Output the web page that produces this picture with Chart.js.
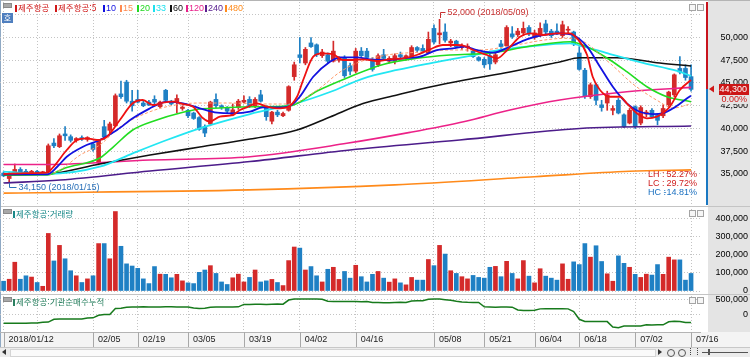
<!DOCTYPE html>
<html lang="ko">
<head>
<meta charset="utf-8">
<title>제주항공</title>
<script src="https://cdn.jsdelivr.net/npm/chart.js@4.4.1/dist/chart.umd.min.js"></script>
<style>
  html, body { margin: 0; padding: 0; background: #fff; }
  #wrap { position: relative; width: 750px; height: 357px; overflow: hidden; background: #fff; }
  canvas { position: absolute; left: 0; }
  .abs { position: absolute; }
  .txt { position: absolute; font: 9px "Liberation Sans", sans-serif; line-height: 11px; white-space: nowrap; }
  .kr { font-family: "Noto Sans CJK KR", sans-serif; font-size: 8.5px; }
  .mk { position: absolute; width: 2px; height: 7px; }
  .ico { position: absolute; width: 7px; height: 3px; background: #a8a8a8; border: 1px solid #8a8a8a; }
  .btn { position: absolute; width: 5px; height: 5px; border: 1px solid #a4a4a4; background: #f6f6f6; }
</style>
</head>
<body>
<div id="wrap">
  <div class="abs" style="left:708px;top:0;width:42px;height:332px;background:#e4e4e4"></div>
  <div class="abs" style="left:0;top:332px;width:750px;height:15px;background:#f4f4f4"></div>
  <div class="abs" style="left:0;top:347px;width:750px;height:10px;background:#ececec;border-top:1px solid #c8c8c8"></div>
  <div class="abs" style="left:10px;top:349px;width:644px;height:6px;background:#fafafa;border:1px solid #d4d4d4"></div>
  <div class="abs" style="left:2px;top:349px;width:0;height:0;border-top:3px solid transparent;border-bottom:3px solid transparent;border-right:4px solid #333"></div>
  <div class="abs" style="left:658px;top:349px;width:0;height:0;border-top:3px solid transparent;border-bottom:3px solid transparent;border-left:4px solid #333"></div>
  <div class="abs" style="left:667px;top:349px;width:6px;height:6px;border:1px solid #555;border-radius:50%"></div>
  <div class="abs" style="left:678px;top:349px;width:6px;height:6px;border:1px solid #555;border-radius:50%"></div>
  <div class="abs" style="left:690px;top:348px;width:6px;height:7px;border-left:1px dotted #444;border-right:1px dotted #444"></div>
  <div class="abs" style="left:702px;top:352px;width:46px;height:1px;background:#555"></div>
  <div class="abs" style="left:708px;top:349px;width:2px;height:6px;background:#555"></div>

  <div class="abs" style="left:0;top:206px;width:750px;height:1px;background:#c4c4c4"></div>
  <div class="abs" style="left:0;top:294px;width:750px;height:1px;background:#c4c4c4"></div>
  <div class="abs" style="left:0;top:0;width:750px;height:1px;background:#b4b4b4"></div>
  <div class="abs" style="left:0;top:0;width:1px;height:347px;background:#8fa9c4"></div>

  <canvas id="cPrice" width="750" height="207" style="top:0"></canvas>
  <canvas id="cVol" width="750" height="87" style="top:207px"></canvas>
  <canvas id="cInst" width="750" height="53" style="top:294px"></canvas>

  <div class="ico" style="left:3px;top:3px"></div>
  <div class="abs" style="left:2px;top:13px;width:11px;height:10px;background:#4f7fbf;color:#fff;font:8px 'Noto Sans CJK KR';line-height:10px;text-align:center">호</div>
  <div class="mk" style="left:15px;top:5px;background:#d01818"></div>
  <div class="txt kr" style="left:18px;top:2px;color:#d01818">제주항공</div>
  <div class="mk" style="left:55px;top:5px;background:#d01818"></div>
  <div class="txt kr" style="left:58px;top:2px;color:#d01818">제주항공:5</div>
  <div class="mk" style="left:103px;top:5px;background:#1010e0"></div>
  <div class="txt" style="left:106px;top:3px;color:#1010e0">10</div>
  <div class="mk" style="left:120px;top:5px;background:#ff8a50"></div>
  <div class="txt" style="left:123px;top:3px;color:#ff8a50">15</div>
  <div class="mk" style="left:137px;top:5px;background:#22d822"></div>
  <div class="txt" style="left:140px;top:3px;color:#22d822">20</div>
  <div class="mk" style="left:153px;top:5px;background:#1ce0ee"></div>
  <div class="txt" style="left:156px;top:3px;color:#1ce0ee">33</div>
  <div class="mk" style="left:170px;top:5px;background:#111"></div>
  <div class="txt" style="left:173px;top:3px;color:#111">60</div>
  <div class="mk" style="left:186px;top:5px;background:#e8208a"></div>
  <div class="txt" style="left:189px;top:3px;color:#e8208a">120</div>
  <div class="mk" style="left:205px;top:5px;background:#5a2090"></div>
  <div class="txt" style="left:208px;top:3px;color:#5a2090">240</div>
  <div class="mk" style="left:225px;top:5px;background:#ff8a1a"></div>
  <div class="txt" style="left:228px;top:3px;color:#ff8a1a">480</div>
  <div class="btn" style="left:689px;top:4px"></div>
  <div class="btn" style="left:697px;top:4px"></div>

  <div class="ico" style="left:3px;top:209px"></div>
  <div class="mk" style="left:13px;top:211px;background:#198888"></div>
  <div class="txt kr" style="left:16px;top:208px;color:#198888">제주항공:거래량</div>
  <div class="btn" style="left:689px;top:210px"></div>
  <div class="btn" style="left:697px;top:210px"></div>

  <div class="ico" style="left:3px;top:297px"></div>
  <div class="mk" style="left:13px;top:299px;background:#2a8060"></div>
  <div class="txt kr" style="left:16px;top:296px;color:#2a8060">제주항공:기관순매수누적</div>
  <div class="btn" style="left:689px;top:297px"></div>
  <div class="btn" style="left:697px;top:297px"></div>
</div>
<script>
// 제주항공 일봉 2018/01/12 ~ 2018/07/16
var year = '2018';
var dates = [
  '01/12','01/15','01/16','01/17','01/18','01/19','01/22','01/23','01/24','01/25','01/26','01/29','01/30','01/31',
  '02/01','02/02','02/05','02/06','02/07','02/08','02/09','02/12','02/13','02/14','02/19','02/20','02/21','02/22','02/23','02/26','02/27','02/28',
  '03/02','03/05','03/06','03/07','03/08','03/09','03/12','03/13','03/14','03/15','03/16','03/19','03/20','03/21','03/22','03/23','03/26','03/27','03/28','03/29','03/30',
  '04/02','04/03','04/04','04/05','04/06','04/09','04/10','04/11','04/12','04/13','04/16','04/17','04/18','04/19','04/20','04/23','04/24','04/25','04/26','04/27','04/30',
  '05/02','05/03','05/04','05/08','05/09','05/10','05/11','05/14','05/15','05/16','05/17','05/18','05/21','05/23','05/24','05/25','05/28','05/29','05/30','05/31',
  '06/01','06/04','06/05','06/07','06/08','06/11','06/12','06/14','06/15','06/18','06/19','06/20','06/21','06/22','06/25','06/26','06/27','06/28','06/29',
  '07/02','07/03','07/04','07/05','07/06','07/09','07/10','07/11','07/12','07/13','07/16'
];
var tickDates = ['01/12','01/22','02/05','02/19','03/05','03/19','04/02','04/16','05/08','05/21','06/04','06/18','07/02','07/16'];
var tickText = ['2018/01/12','','02/05','02/19','03/05','03/19','04/02','04/16','05/08','05/21','06/04','06/18','07/02','07/16'];

var opens = [
  35100,34500,35000,35500,35300,35100,35300,35100,35200,38400,
  38000,39400,39100,38700,39000,38800,38300,36200,40200,39800,
  40300,43800,45100,43000,43200,42800,42900,43200,42400,44200,
  43000,42900,42200,42000,41700,41200,40200,40500,43200,42500,
  42300,41500,42300,42900,43200,42400,43700,42300,40800,41800,
  41400,42000,45700,48100,47200,49400,49200,48000,48100,47400,
  47500,47800,46900,46300,48500,48500,47500,47000,48100,47400,
  47400,48100,47800,47900,48900,48800,48300,51000,50300,50600,
  49400,49600,48900,48900,48500,47800,47600,48000,47300,49300,
  49100,50400,50300,50500,51100,50000,50300,51500,50700,50700,
  50200,50800,50600,48300,46400,43500,44800,42600,42800,42000,
  43100,41500,40600,42400,40600,41600,42000,41500,41400,42600,
  43700,46600,46600,45700
];
var highs = [
  35250,35200,36100,35700,35500,35400,35400,35300,38300,38900,
  39400,40200,39300,39000,39200,39100,38400,38800,40900,40700,
  43800,45200,45300,44200,44200,43000,43100,43600,43000,44300,
  43100,43700,42500,42100,41800,41300,40400,43000,43800,42600,
  42400,42700,43200,43600,43500,43400,44200,42500,41900,42000,
  41800,44700,47300,50000,48900,50000,49300,48700,48300,49600,
  47900,48000,47200,48800,48900,48800,47800,48200,48700,47900,
  48200,48400,48100,49100,49000,49200,50600,51400,52000,51500,
  49800,49700,49300,49300,48700,47900,47800,48500,48300,49700,
  51300,51200,51000,51700,51300,50800,51600,51900,50900,51500,
  51800,51200,50700,49000,46600,45000,45000,43100,44100,42500,
  43300,41600,42200,42500,42500,42000,42200,41600,42600,44100,
  46000,47900,47000,47000
];
var lows = [
  34700,34150,34900,35100,35000,34950,35000,35000,35100,37900,
  37900,38700,38500,38500,38700,38600,37500,36000,38800,39500,
  40200,43300,42800,41900,42800,42400,42500,42700,42300,43000,
  42600,41700,42000,41200,41000,39800,39100,40300,42300,42100,
  41700,41400,42100,42800,42300,42300,42900,40900,40500,41300,
  41300,41900,45300,47200,47000,48900,47900,47800,47200,47300,
  47300,45600,45900,46100,47900,47600,46300,46800,47500,47200,
  47100,47700,47500,47800,48400,48300,48200,49300,49300,49500,
  49000,48900,48700,48500,47800,47400,46700,46500,47100,48800,
  49000,49900,50100,50200,50200,49800,50100,50400,50000,50300,
  50000,50400,49100,46400,43300,43300,42600,41900,42000,41500,
  41600,40100,40500,40000,40400,41300,41200,40400,41200,42400,
  43500,46000,45300,44100
];
var closes = [
  34800,35000,35500,35200,35100,35300,35100,35250,38100,38100,
  39200,39200,38700,38900,38850,39000,37700,38700,39100,40500,
  43600,43500,43000,42500,42900,42500,42600,42900,42900,43100,
  42700,43300,42350,41400,41100,39900,39500,42900,42500,42300,
  41900,42050,43000,43100,42400,43200,43000,41300,41800,41500,
  41650,44600,47000,47800,48700,49000,48100,48400,47400,48500,
  47800,45800,46300,48500,48000,47800,46500,48000,47700,47700,
  48000,47900,48000,48900,48600,48500,49800,49500,50500,49700,
  49600,49000,49100,49050,47900,47500,47000,47100,48100,49000,
  51100,50100,50700,51000,50400,50500,51000,50600,50200,50400,
  51400,50900,49300,46500,43500,44800,43100,42300,43700,42200,
  41700,40200,42000,40200,42300,41800,41300,40900,42200,44000,
  45900,46200,45600,44300
];
var dayChange = 0.00;

var volumes = [
  54000,65000,159000,65000,84000,77000,47000,26000,318000,166000,
  252000,178000,112000,84000,47000,67000,84000,262000,262000,178000,
  439000,247000,150000,138000,125000,67000,41000,135000,93000,92000,
  73000,92000,56000,45000,41000,103000,116000,140000,97000,50000,
  36000,73000,93000,50000,75000,116000,50000,56000,64000,47000,
  30000,168000,243000,237000,116000,135000,84000,50000,120000,131000,
  64000,108000,71000,142000,79000,50000,92000,108000,71000,49000,
  67000,45000,34000,75000,60000,60000,174000,140000,252000,204000,
  112000,97000,79000,67000,86000,75000,71000,131000,136000,79000,
  164000,97000,67000,168000,82000,45000,123000,82000,71000,60000,
  150000,65000,161000,146000,262000,187000,250000,163000,95000,54000,
  194000,153000,131000,92000,75000,93000,88000,146000,92000,187000,
  172000,172000,60000,97000
];

// 기관 순매수 누적
var instCum = [
  -280000,-280000,-275000,-275000,-275000,-270000,-270000,-245000,-240000,-150000,
  -145000,-145000,-140000,-140000,-145000,-110000,-105000,-20000,0,5000,
  200000,205000,240000,245000,245000,250000,248000,245000,245000,250000,
  250000,248000,245000,245000,210000,200000,205000,240000,245000,245000,
  248000,245000,250000,330000,330000,335000,335000,330000,335000,340000,
  335000,470000,500000,505000,500000,505000,500000,495000,430000,425000,
  420000,420000,425000,420000,415000,420000,390000,390000,385000,380000,
  390000,395000,390000,440000,445000,445000,495000,500000,500000,480000,
  460000,430000,410000,395000,390000,390000,250000,245000,240000,245000,
  245000,240000,150000,135000,135000,140000,185000,190000,190000,185000,
  190000,185000,100000,-150000,-220000,-225000,-225000,-220000,-225000,-400000,
  -420000,-370000,-365000,-370000,-365000,-330000,-335000,-330000,-330000,-230000,
  -215000,-220000,-255000,-255000
];

// 이동평균선 (봉 위치, 가격)
var ma5 = [[0,35000],[4,35100],[7.8,35150],[8.8,35700],[11.3,37635],[13.1,38735],[14.9,38920],[16.7,38735],[18.5,39100],[20.8,40935],[23.1,42770],[24.9,43130],[26.7,42580],[28.5,42835],[30.3,42945],[32.1,42690],[33.9,42395],[35.7,41120],[36.9,40750],[38.7,41300],[41,41480],[42.3,42030],[43.5,42330],[45.3,42770],[47.1,42395],[48.9,42220],[50.7,42330],[52.5,43490],[53.6,45330],[55.4,47890],[57,48260],[58.9,48185],[60.7,47530],[62.5,47530],[64.3,47605],[66.8,47420],[69.1,47605],[71.5,47715],[73.9,48075],[76.3,48700],[78.6,49175],[81.1,49175],[82.5,49065],[84,48625],[86.5,48075],[88.3,47715],[90.1,48625],[92.4,50090],[94.2,50460],[96.5,50275],[99,50460],[101.3,50460],[102.6,49910],[104.4,48075],[105.4,45690],[106.7,44230],[108.5,43490],[110.3,43490],[111.5,42770],[113.3,41670],[115.1,41120],[116.9,41300],[117.9,41670],[119.2,42395],[121,44230],[123,45330]];
var ma10 = [[0,34950],[7.8,34950],[9.6,35800],[11.3,36900],[14.2,38000],[17.2,38735],[20.3,39835],[23.1,41120],[26.2,42220],[28,42770],[29.2,42945],[32.1,42770],[35.1,42220],[38.2,41735],[41,41670],[44.1,41845],[46.4,42330],[49.4,42330],[51.2,42470],[53,43490],[55.4,45690],[58.4,47340],[60.2,47825],[63.2,47825],[65.5,47605],[68.6,47530],[71.5,47715],[74.5,47890],[77.5,48625],[80.4,48810],[82.5,48990],[84.7,48625],[87.6,48330],[90.6,48990],[93.6,49800],[96.5,50275],[99.5,50460],[101.9,50275],[104.4,48990],[106.7,46790],[109,44590],[111.5,42770],[113.8,41845],[116.2,41590],[117.9,41670],[119.8,42220],[122.3,43320],[123,43600]];
var ma15 = [[0,34950],[7.8,34950],[10.1,35440],[13.7,37085],[17.2,38185],[20.8,40165],[26.2,41845],[30.7,42580],[35.1,42800],[40.5,42800],[46.4,42690],[51.2,42690],[56.1,44230],[60.2,46210],[63.2,47200],[68.6,48075],[74.5,48400],[79.9,48625],[85.2,48625],[90.6,49065],[96.8,49725],[100.4,49910],[103.1,49725],[108.5,47165],[112.6,44890],[116.9,43100],[119.8,42250],[123,42720]];
var ma20 = [[0,34890],[7.8,34890],[11,35660],[17.2,36755],[19.6,37965],[23.1,39835],[27.4,40935],[31.6,41700],[35.1,42140],[38.7,42250],[44.1,42395],[51.2,42470],[56.1,44120],[62,45690],[67.9,47030],[73.9,47715],[79.9,48075],[87.6,48330],[93.6,48990],[101.3,49540],[104.4,48990],[108.5,47530],[111.5,46240],[115.1,44590],[118.7,43490],[123,42945]];
var ma33 = [[0,35250],[7.8,35000],[17.2,35800],[23.1,37270],[29.2,38735],[35.1,40020],[44.1,41590],[52.5,42800],[58.4,44010],[64.3,45490],[70.4,46430],[76.3,47165],[82.5,47860],[88.8,48625],[93.6,48990],[101.3,49360],[103.1,49120],[108.5,48185],[114.4,47200],[120.5,46320],[123,45770]];
var ma60 = [[0,34890],[7.8,35000],[17.2,36100],[26.2,37085],[35.1,37965],[44.1,38845],[52.5,39835],[58.4,41265],[64.3,42745],[70.4,43680],[76.3,44560],[82.5,45330],[90.6,46210],[99.5,47310],[103.1,47770],[109.7,47770],[117.4,47200],[123,46870]];
var ma120 = [[0,36050],[7.8,36050],[26.2,36535],[44.1,36900],[61.4,38370],[72.7,39570],[82.5,40770],[90.6,42030],[99.5,43130],[111.5,44040],[123,44520]];
var ma240 = [[0,34010],[10.1,34340],[26.2,35330],[44.1,36370],[62,37640],[81.6,38735],[103.1,40000],[123,40270]];
var ma480 = [[0,32900],[44,33250],[70,33800],[95,34700],[112,35300],[123,35450]];

var priceTicks = [35000, 37500, 40000, 42500, 45000, 47500, 50000, 52500];
var priceLabels = [35000, 37500, 40000, 42500, 45000, 47500, 50000];
var volTicks = [0, 100000, 200000, 300000, 400000];
var instTicks = [0, 500000];

Chart.defaults.font.family = '"Liberation Sans", Arial, sans-serif';
Chart.defaults.font.size = 9;
Chart.defaults.color = '#111';

var X_MIN = -0.644, X_MAX = 124.6;
var UP = '#d42a2a', DOWN = '#1f80c4';
var GRID = '#c4c4c4';
var NUM_FONT = '9px "Liberation Sans", Arial, sans-serif';

var tickIdx = tickDates.map(function (d) { return dates.indexOf(d); });

function fmtNum(v) { return Number(v).toLocaleString('en-US'); }
function isUp(i) { return closes[i] >= opens[i]; }
function barColor(c) { return isUp(c.dataIndex) ? UP : DOWN; }

function xScale(showLabels) {
  return {
    type: 'linear', min: X_MIN, max: X_MAX, bounds: 'data', offset: false,
    afterBuildTicks: function (s) { s.ticks = tickIdx.map(function (v) { return { value: v }; }); },
    afterFit: function (s) { s.paddingLeft = 0; s.paddingRight = 0; },
    grid: { color: GRID, drawTicks: false, offset: false },
    border: { display: showLabels, color: '#b4b4b4', dash: [1, 2] },
    ticks: {
      display: showLabels, autoSkip: false, maxRotation: 0, align: 'start', padding: 2, color: '#222',
      callback: function (v, i) { return tickText[i] ? '  ' + tickText[i] : ''; }
    }
  };
}

function yScale(min, max, vals, shown) {
  return {
    position: 'right', min: min, max: max, bounds: 'data',
    afterBuildTicks: function (s) { s.ticks = vals.map(function (v) { return { value: v }; }); },
    afterFit: function (s) { s.width = 48; s.paddingTop = 0; s.paddingBottom = 0; },
    grid: { color: GRID, drawTicks: false },
    border: { display: false, dash: [1, 2] },
    ticks: {
      crossAlign: 'far', padding: 0, color: '#000',
      callback: function (v) { return (!shown || shown.indexOf(v) >= 0) ? fmtNum(v) : ''; }
    }
  };
}

function maSet(pts, color, width, dash) {
  return {
    type: 'line', order: 1,
    data: pts.map(function (p) { return { x: p[0], y: p[1] }; }),
    borderColor: color, borderWidth: width, borderDash: dash || [],
    pointRadius: 0, fill: false, cubicInterpolationMode: 'monotone'
  };
}

var baseOpts = {
  responsive: false, animation: false, devicePixelRatio: 1, events: [],
  plugins: { legend: { display: false }, tooltip: { enabled: false } }
};

function opts(extra) { return Object.assign({}, baseOpts, extra); }

// 고가/저가 표시, 현재가 박스, LH/LC/HC
var priceMarks = {
  id: 'priceMarks',
  afterDraw: function (chart) {
    var ctx = chart.ctx, x = chart.scales.x, y = chart.scales.y, a = chart.chartArea;
    var hi = Math.max.apply(null, highs), hiI = highs.indexOf(hi);
    var lo = Math.min.apply(null, lows), loI = lows.indexOf(lo);
    var last = closes[closes.length - 1];
    ctx.save();
    ctx.font = NUM_FONT;
    ctx.textBaseline = 'middle';
    ctx.lineWidth = 1;

    var hx = Math.round(x.getPixelForValue(hiI)) + 0.5, hy = Math.round(y.getPixelForValue(hi));
    ctx.strokeStyle = '#c83030';
    ctx.beginPath(); ctx.moveTo(hx, hy - 1); ctx.lineTo(hx, hy - 6.5); ctx.lineTo(hx + 5, hy - 6.5); ctx.stroke();
    ctx.fillStyle = '#c83030'; ctx.textAlign = 'left';
    ctx.fillText(fmtNum(hi) + ' (' + year + '/' + dates[hiI] + ')', hx + 7, hy - 6);

    var lx = Math.round(x.getPixelForValue(loI)) + 0.5, ly = Math.round(y.getPixelForValue(lo));
    ctx.strokeStyle = '#2a70b8';
    ctx.beginPath(); ctx.moveTo(lx, ly + 1); ctx.lineTo(lx, ly + 5.5); ctx.lineTo(lx + 7, ly + 5.5); ctx.stroke();
    ctx.fillStyle = '#2a70b8';
    ctx.fillText(fmtNum(lo) + ' (' + year + '/' + dates[loI] + ')', lx + 9, ly + 6);

    var rows = [
      ['LH', (hi - lo) / lo * 100, '#d02020'],
      ['LC', (last - lo) / lo * 100, '#d02020'],
      ['HC', (last - hi) / hi * 100, '#1a70c0']
    ];
    rows.forEach(function (r, k) {
      var ty = 175 + k * 9;
      ctx.fillStyle = r[2];
      ctx.textAlign = 'left'; ctx.fillText(r[0] + ' :', 648, ty);
      ctx.textAlign = 'right'; ctx.fillText(r[1].toFixed(2) + '%', 697, ty);
    });

    var yl = Math.round(y.getPixelForValue(last));
    ctx.fillStyle = '#c8141e'; ctx.fillRect(706, a.top, 2, yl - a.top);
    ctx.fillStyle = '#1a78c2'; ctx.fillRect(706, yl, 2, a.bottom - yl);
    ctx.fillStyle = '#d01818';
    ctx.beginPath(); ctx.moveTo(709, yl); ctx.lineTo(714, yl - 3.5); ctx.lineTo(714, yl + 3.5); ctx.closePath(); ctx.fill();
    ctx.fillStyle = '#e4e4e4'; ctx.fillRect(718, yl + 6, 32, 9);
    ctx.fillStyle = '#cc1616'; ctx.fillRect(719, yl - 5, 30, 11);
    ctx.fillStyle = '#fff'; ctx.textAlign = 'right';
    ctx.fillText(fmtNum(last), 747, yl + 0.5);
    ctx.fillStyle = '#d01818';
    ctx.fillText(dayChange.toFixed(2) + '%', 747, yl + 11);
    ctx.restore();
  }
};

// 날짜 구분선
var dateSeps = {
  id: 'dateSeps',
  afterDraw: function (chart) {
    var ctx = chart.ctx, x = chart.scales.x, a = chart.chartArea;
    ctx.save();
    ctx.strokeStyle = '#a8a8a8'; ctx.lineWidth = 1;
    tickIdx.forEach(function (v, k) {
      if (!tickText[k]) return;
      var px = Math.round(x.getPixelForValue(v)) + 0.5;
      ctx.beginPath(); ctx.moveTo(px, a.bottom); ctx.lineTo(px, chart.height); ctx.stroke();
    });
    ctx.restore();
  }
};

var bodies = {
  type: 'bar', order: 5, grouped: false, barThickness: 4, minBarLength: 1,
  data: opens.map(function (o, i) { return { x: i, y: [o, closes[i]] }; }),
  backgroundColor: barColor, borderWidth: 0
};
var wicks = {
  type: 'bar', order: 6, grouped: false, barThickness: 1,
  data: lows.map(function (l, i) { return { x: i, y: [l, highs[i]] }; }),
  backgroundColor: barColor, borderWidth: 0
};

new Chart(document.getElementById('cPrice'), {
  type: 'bar',
  data: {
    datasets: [
      maSet(ma5, '#ee1111', 1.8),
      maSet(ma10, '#1212e0', 1.8),
      maSet(ma15, '#ff9a6a', 1, [3, 2]),
      maSet(ma20, '#22dd22', 1.6),
      maSet(ma33, '#22e6f2', 1.8),
      maSet(ma60, '#111111', 1.6),
      maSet(ma120, '#ec2288', 1.6),
      maSet(ma240, '#4c1c8a', 1.6),
      maSet(ma480, '#ff8a1a', 1.6),
      bodies, wicks
    ]
  },
  options: opts({
    layout: { padding: { top: 2, bottom: 2, left: 0, right: 2 } },
    scales: { x: xScale(false), y: yScale(31593, 53901, priceTicks, priceLabels) }
  }),
  plugins: [priceMarks]
});

new Chart(document.getElementById('cVol'), {
  type: 'bar',
  data: {
    datasets: [{
      grouped: false, barThickness: 4,
      data: volumes.map(function (v, i) { return { x: i, y: v }; }),
      backgroundColor: barColor, borderWidth: 0
    }]
  },
  options: opts({
    layout: { padding: { top: 2, bottom: 3, left: 0, right: 2 } },
    scales: { x: xScale(false), y: yScale(0, 453000, volTicks) }
  })
});

new Chart(document.getElementById('cInst'), {
  type: 'line',
  data: {
    datasets: [{
      data: instCum.map(function (v, i) { return { x: i, y: v }; }),
      borderColor: '#177a1c', borderWidth: 1.5, pointRadius: 0, fill: false, tension: 0
    }]
  },
  options: opts({
    layout: { padding: { top: 2, bottom: 0, left: 0, right: 2 } },
    scales: { x: xScale(true), y: yScale(-567000, 600000, instTicks) }
  }),
  plugins: [dateSeps]
});
</script>
</body>
</html>
